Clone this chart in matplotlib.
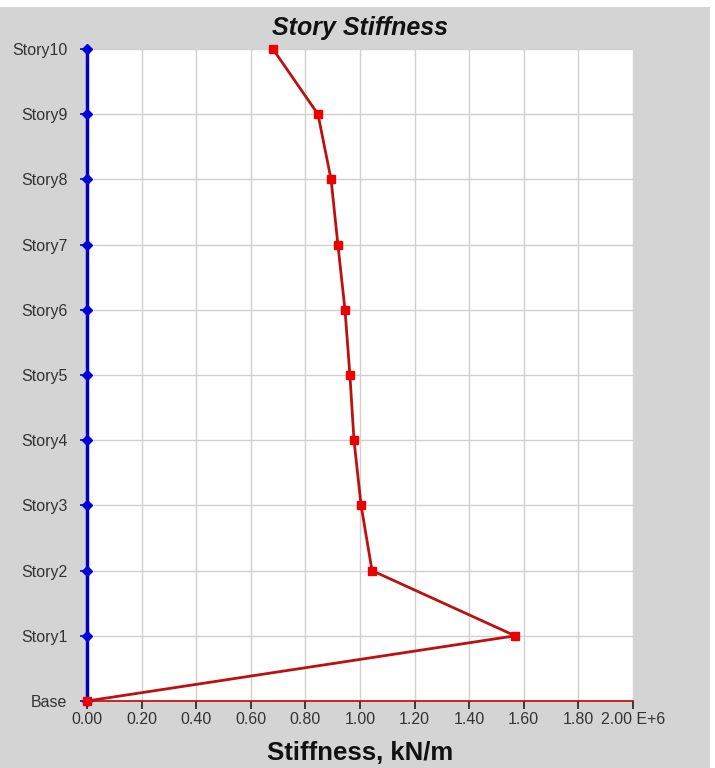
import matplotlib
matplotlib.use("Agg")
import matplotlib.pyplot as plt
from matplotlib.patches import Rectangle

stories = ["Base", "Story1", "Story2", "Story3", "Story4", "Story5",
           "Story6", "Story7", "Story8", "Story9", "Story10"]
stiffness = [0.0, 1.568, 1.044, 1.004, 0.978, 0.963, 0.945, 0.919, 0.894, 0.846, 0.681]  # x 1E+6 kN/m
xticks = [0.0, 0.2, 0.4, 0.6, 0.8, 1.0, 1.2, 1.4, 1.6, 1.8, 2.0]
xlabels = ["0.00", "0.20", "0.40", "0.60", "0.80", "1.00", "1.20", "1.40", "1.60", "1.80", "2.00 E+6"]

plt.rcParams["font.family"] = ["Liberation Sans", "DejaVu Sans"]

fig = plt.figure(figsize=(7.15, 7.68), dpi=100, facecolor="white")
# grey panel behind the chart (thin white border top and right)
fig.patches.append(Rectangle((0, 0), 710 / 715, 761 / 768, transform=fig.transFigure,
                             facecolor="#d4d4d4", edgecolor="none", zorder=-10))

ax = fig.add_axes([87 / 715, 67 / 768, 546 / 715, 652 / 768])
ax.set_facecolor("white")
ys = list(range(len(stories)))

ax.set_xlim(0, 2.0)
ax.set_ylim(0, len(stories) - 1)
ax.set_xticks(xticks)
ax.set_xticklabels(xlabels)
ax.set_yticks(ys)
ax.set_yticklabels(stories)
ax.grid(True, color="#d0d0d0", linewidth=1)
ax.set_axisbelow(True)
for s in ax.spines.values():
    s.set_visible(False)

ax.tick_params(axis="x", direction="out", length=6, width=1.2, color="#222222",
               labelsize=11.5, labelcolor="#333333", pad=2)
ax.tick_params(axis="y", direction="out", length=5, width=1.2, color="#0000cc",
               labelsize=11.5, labelcolor="#333333", pad=9)

# axis lines
ax.plot([0, 2.0], [0, 0], color="#cc0000", linewidth=1.2, clip_on=False, zorder=3)
ax.plot([0] * len(ys), ys, color="#0000bb", linewidth=2.5, marker="D", markersize=5,
        markerfacecolor="#0000dd", markeredgecolor="#0000dd", clip_on=False, zorder=4)

# stiffness profile
ax.plot(stiffness, ys, color="#bb1111", linewidth=2, marker="s", markersize=6,
        markerfacecolor="#ee0000", markeredgecolor="#ee0000", clip_on=False, zorder=5)

fig.text(360 / 715, 733 / 768, "Story Stiffness", fontsize=18, fontweight="bold",
         style="italic", color="#111111", ha="center", va="baseline")
fig.text(360 / 715, 8 / 768, "Stiffness, kN/m", fontsize=18.5, fontweight="bold",
         color="#111111", ha="center", va="baseline")

fig.savefig("out.png", dpi=100, facecolor=fig.get_facecolor())
